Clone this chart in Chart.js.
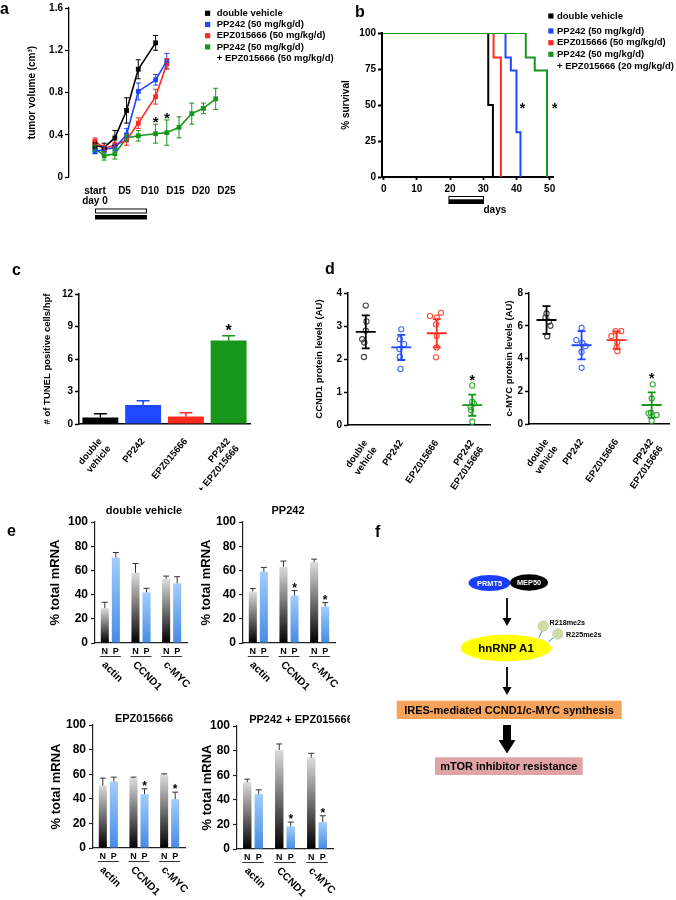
<!DOCTYPE html>
<html>
<head>
<meta charset="utf-8">
<title>PRMT5 / mTOR figure</title>
<script src="https://cdn.jsdelivr.net/npm/chart.js@4.4.1/dist/chart.umd.min.js"></script>
<style>
  body { margin: 0; background: #fff; }
  #page { position: relative; width: 676px; height: 900px; overflow: hidden; background: #fff; }
  .cv { position: absolute; }
  #overlay { position: absolute; left: 0; top: 0; pointer-events: none; }
</style>
</head>
<body>
<div id="page">
  <div class="cv" style="left:0;top:0;width:340px;height:230px"><canvas id="chartA"></canvas></div>
  <div class="cv" style="left:340px;top:0;width:336px;height:230px"><canvas id="chartB"></canvas></div>
  <div class="cv" style="left:0;top:250px;width:340px;height:240px"><canvas id="chartC"></canvas></div>
  <div class="cv" style="left:300px;top:250px;width:200px;height:240px"><canvas id="chartD1"></canvas></div>
  <div class="cv" style="left:490px;top:250px;width:186px;height:240px"><canvas id="chartD2"></canvas></div>
  <div class="cv" style="left:0;top:490px;width:240px;height:210px"><canvas id="chartE1"></canvas></div>
  <div class="cv" style="left:150px;top:490px;width:200px;height:210px"><canvas id="chartE2"></canvas></div>
  <div class="cv" style="left:0;top:695px;width:240px;height:205px"><canvas id="chartE3"></canvas></div>
  <div class="cv" style="left:150px;top:695px;width:200px;height:205px"><canvas id="chartE4"></canvas></div>

  <svg id="overlay" width="676" height="900" viewBox="0 0 676 900" font-family="Liberation Sans, Arial, Helvetica, sans-serif" font-weight="bold">
    <text x="0" y="14" font-size="16">a</text>
    <text x="355" y="16.7" font-size="16">b</text>
    <text x="12" y="275" font-size="16">c</text>
    <text x="325" y="274.3" font-size="16">d</text>
    <text x="7" y="535.7" font-size="16">e</text>
    <text x="375" y="537" font-size="16">f</text>

    <!-- panel f: model -->
    <ellipse cx="489.5" cy="583" rx="21" ry="8" fill="#1a3cff"/>
    <ellipse cx="529" cy="582.5" rx="19" ry="8.3" fill="#000"/>
    <text x="489.5" y="585.7" font-size="7.4" fill="#fff" text-anchor="middle">PRMT5</text>
    <text x="529" y="585.2" font-size="7.4" fill="#fff" text-anchor="middle">MEP50</text>
    <line x1="507" y1="598" x2="507" y2="619" stroke="#000" stroke-width="1.8"/>
    <polygon points="502.5,618 511.5,618 507,626" fill="#000"/>
    <line x1="539" y1="637.5" x2="542" y2="631" stroke="#3b80d6" stroke-width="1"/>
    <line x1="548.5" y1="642" x2="553" y2="638" stroke="#3b80d6" stroke-width="1"/>
    <ellipse cx="506" cy="648" rx="45.5" ry="13.3" fill="#ffff00"/>
    <circle cx="543.3" cy="626" r="5.7" fill="#cfdca8"/>
    <circle cx="557.7" cy="634" r="5.7" fill="#cfdca8"/>
    <text x="549.5" y="625" font-size="7.2">R218me2s</text>
    <text x="566" y="636.7" font-size="7.2">R225me2s</text>
    <text x="506" y="652" font-size="11.5" text-anchor="middle">hnRNP A1</text>
    <line x1="507" y1="667" x2="507" y2="688" stroke="#000" stroke-width="1.8"/>
    <polygon points="502.5,687 511.5,687 507,695" fill="#000"/>
    <rect x="396.7" y="700.7" width="225" height="18.3" fill="#f7a45a"/>
    <text x="509" y="713.8" font-size="11" text-anchor="middle">IRES-mediated CCND1/c-MYC synthesis</text>
    <rect x="503" y="725" width="8" height="16" fill="#000"/>
    <polygon points="498.5,740 515.5,740 507,753.5" fill="#000"/>
    <rect x="435" y="757.3" width="147.7" height="17.7" fill="#dfa3a3"/>
    <text x="508.8" y="770.2" font-size="11" text-anchor="middle">mTOR inhibitor resistance</text>
  </svg>
</div>

<script>
// ---- panel a: tumor volume ----
const dayA = [-0.8, 1, 3.1, 5.4, 7.7, 11.1, 13.3, 15.7, 18.2, 20.5, 22.9];
const volVehicle = [0.30, 0.28, 0.37, 0.63, 1.02, 1.27];
const errVehicle = [0.03, 0.04, 0.07, 0.12, 0.09, 0.07];
const volPP242 = [0.24, 0.26, 0.28, 0.40, 0.81, 0.92, 1.10];
const errPP242 = [0.02, 0.03, 0.03, 0.06, 0.08, 0.05, 0.07];
const volEPZ = [0.34, 0.27, 0.30, 0.35, 0.51, 0.76, 1.07];
const errEPZ = [0.03, 0.03, 0.03, 0.05, 0.05, 0.07, 0.05];
const volCombo = [0.27, 0.20, 0.22, 0.37, 0.39, 0.41, 0.42, 0.47, 0.60, 0.65, 0.74];
const errCombo = [0.03, 0.04, 0.05, 0.03, 0.05, 0.09, 0.12, 0.10, 0.10, 0.05, 0.10];
const tickDaysA = [-0.8, 5, 10, 15, 20, 25];
const tickLabelsA = [['start', 'day 0'], 'D5', 'D10', 'D15', 'D20', 'D25'];
const treatA = [-0.8, 9.4];

// ---- panel b: survival ----
const kmVehicleDay = [0, 31.5, 32.9], kmVehicleSurv = [100, 50, 0];
const kmPP242Day = [0, 36.7, 38.3, 40, 41.2], kmPP242Surv = [100, 83, 74, 31, 0];
const kmEPZDay = [0, 33.1, 35.3], kmEPZSurv = [100, 83, 0];
const kmComboDay = [0, 42.8, 45.5, 49.2], kmComboSurv = [100, 83, 74, 0];
const tickDaysB = [0, 10, 20, 30, 40, 50];
const treatB = [19.5, 30.2];
const starsB = [[41.8, 50], [51.5, 50]];

// ---- panel c: TUNEL ----
const groups = [['double', 'vehicle'], 'PP242', 'EPZ015666', ['PP242', '+ EPZ015666']];
const tunelMean = [0.6, 1.75, 0.7, 7.7];
const tunelErr = [0.35, 0.4, 0.35, 0.45];

// ---- panel d: protein levels ----
const ccndVehicle = [3.62, 3.14, 2.86, 2.6, 2.5, 2.06];
const ccndPP242 = [2.9, 2.6, 2.45, 2.3, 2.07, 1.7];
const ccndEPZ = [3.3, 3.25, 3.4, 3.05, 2.7, 2.35, 2.05];
const ccndCombo = [1.2, 0.7, 0.65, 0.55, 0.45, 0.1];
const ccndMean = [2.82, 2.35, 2.78, 0.6];
const ccndSd = [0.5, 0.38, 0.43, 0.32];
const mycVehicle = [6.75, 6.5, 6.25, 6.0, 5.35];
const mycPP242 = [5.87, 5.12, 4.95, 4.75, 4.4, 3.43];
const mycEPZ = [5.36, 5.67, 5.67, 5.0, 4.7, 4.45];
const mycCombo = [2.42, 1.56, 0.69, 0.65, 0.55, 0.2];
const mycMean = [6.35, 4.81, 5.12, 1.16];
const mycSd = [0.85, 0.86, 0.53, 0.77];
// horizontal scatter of the dots (fraction of a group slot)
const jitCcnd = [[0, 0.02, 0, -0.1, -0.04, -0.05], [0, -0.04, 0.08, -0.05, -0.04, -0.02], [-0.19, 0, 0.12, -0.02, 0, 0, -0.02], [0, 0, 0.05, -0.05, -0.03, 0]];
const jitMyc = [[0, -0.03, 0.07, 0.11, 0.02], [0, -0.15, 0.02, 0.11, 0, 0], [-0.15, -0.03, 0.13, 0.02, 0, 0.02], [0.03, 0, -0.02, -0.09, 0.14, 0]];

// ---- panel e: polysome mRNA ----
const genes = ['actin', 'CCND1', 'c-MYC'];
const vehN = [28.8, 58, 53], vehNErr = [4.9, 7.7, 2.3];
const vehP = [70.7, 41.9, 49.3], vehPErr = [4.1, 3.3, 5.5];
const ppN = [42.5, 63, 66.8], ppNErr = [2.5, 4.7, 2.5];
const ppP = [58.9, 39.2, 30.1], ppPErr = [3.6, 4.1, 3.3];
const epzN = [50.8, 56.8, 59.5], epzNErr = [6, 0.8, 0.8];
const epzP = [54, 43.8, 39.7], epzPErr = [3.6, 4.3, 5.7];
const comboN = [54.3, 80.5, 74.3], comboNErr = [2.5, 4.9, 3.5];
const comboP = [44.6, 18.4, 21.9], comboPErr = [3.5, 3.5, 5.1];

const COL = ['#000000', '#1f48ff', '#ff2a1f', '#17961a'];
const DOT = ['#444444', '#4466ff', '#ff4a3a', '#36a836'];
const FAM = '"Liberation Sans", Arial, Helvetica, sans-serif';

Chart.defaults.font.family = FAM;
Chart.defaults.font.weight = 'bold';
Chart.defaults.font.size = 10;
Chart.defaults.color = '#000';
Chart.defaults.animation = false;
Chart.defaults.maintainAspectRatio = false;
Chart.defaults.plugins.legend.display = false;
Chart.defaults.plugins.tooltip.enabled = false;

function drawStar(ctx, x, cy, size) {
  ctx.save();
  ctx.fillStyle = '#000';
  ctx.font = 'bold ' + size + 'px ' + FAM;
  ctx.textAlign = 'center';
  ctx.textBaseline = 'alphabetic';
  ctx.fillText('*', x, cy + size * 0.58);
  ctx.restore();
}

// error bars + stars, read from dataset.err / dataset.stars
const errPlugin = {
  id: 'errPlugin',
  afterDatasetsDraw(chart) {
    const ctx = chart.ctx, y = chart.scales.y;
    chart.data.datasets.forEach((ds, i) => {
      if (!ds.err) return;
      const meta = chart.getDatasetMeta(i);
      ctx.save();
      ctx.lineWidth = ds.errWidth || 1;
      meta.data.forEach((el, j) => {
        const raw = ds.data[j];
        const v = typeof raw === 'object' ? raw.y : raw;
        const e = ds.err[j], c = ds.cap || 3;
        const yt = y.getPixelForValue(v + e);
        const yb = y.getPixelForValue(ds.errMode === 'up' ? v : v - e);
        const col = ds.errColor || ds.borderColor;
        ctx.strokeStyle = Array.isArray(col) ? col[j] : col;
        ctx.beginPath();
        ctx.moveTo(el.x, yt); ctx.lineTo(el.x, yb);
        ctx.moveTo(el.x - c, yt); ctx.lineTo(el.x + c, yt);
        if (ds.errMode !== 'up') { ctx.moveTo(el.x - c, yb); ctx.lineTo(el.x + c, yb); }
        ctx.stroke();
        if (ds.stars && ds.stars.includes(j)) drawStar(ctx, el.x, yt - ds.starGap, ds.starSize);
      });
      ctx.restore();
    });
  }
};
Chart.register(errPlugin);

function yAxis(o) {
  return {
    min: o.min, max: o.max,
    ticks: { stepSize: o.step, color: '#000', font: { size: o.fs || 10, weight: 'bold' }, padding: o.tp === undefined ? 2 : o.tp },
    grid: { drawOnChartArea: false, tickLength: 4, tickColor: o.color || '#000', tickWidth: o.lw || 1.3 },
    border: { color: o.color || '#000', width: o.lw || 1.3 },
    title: { display: true, text: o.title, color: '#000', font: { size: o.tfs || 10, weight: 'bold', lineHeight: o.tlh || 1.2 }, padding: 0 },
    afterFit: s => { s.width = o.w; }
  };
}

function boxLegend(ys, lh, sqX, txtX, sq) {
  return {
    id: 'boxLegend',
    afterDraw(chart) {
      const ctx = chart.ctx;
      ctx.save();
      ctx.font = 'bold 9.5px ' + FAM;
      ctx.textAlign = 'left';
      ctx.textBaseline = 'middle';
      chart.data.datasets.forEach((ds, i) => {
        ctx.fillStyle = ds.borderColor;
        ctx.fillRect(sqX, ys[i] - sq / 2, sq, sq);
        ctx.fillStyle = '#000';
        ds.label.split('\n').forEach((t, k) => ctx.fillText(t, txtX, ys[i] + k * lh));
      });
      ctx.restore();
    }
  };
}

function treatBars(range, y1, h1, y2, h2) {
  return {
    id: 'treatBars',
    afterDraw(chart) {
      const ctx = chart.ctx, x = chart.scales.x;
      const a = x.getPixelForValue(range[0]), b = x.getPixelForValue(range[1]);
      ctx.save();
      ctx.strokeStyle = '#000';
      ctx.lineWidth = 1;
      ctx.strokeRect(a + 0.5, y1 + 0.5, b - a - 1, h1);
      ctx.fillStyle = '#000';
      ctx.fillRect(a, y2, b - a, h2);
      ctx.restore();
    }
  };
}

// ---------------- panel a ----------------
function volSeries(label, ys, err, color, extra) {
  return Object.assign({
    label: label,
    data: ys.map((v, i) => ({ x: dayA[i], y: v })),
    err: err, errWidth: 1, cap: 2.5,
    borderColor: color, backgroundColor: color,
    borderWidth: 1.6, pointStyle: 'rect', pointRadius: 3.4, pointBorderWidth: 0
  }, extra || {});
}

new Chart('chartA', {
  type: 'line',
  data: {
    datasets: [
      volSeries('double vehicle', volVehicle, errVehicle, COL[0]),
      volSeries('PP242 (50 mg/kg/d)', volPP242, errPP242, COL[1]),
      volSeries('EPZ015666 (50 mg/kg/d)', volEPZ, errEPZ, COL[2]),
      volSeries('PP242 (50 mg/kg/d)\n+ EPZ015666 (50 mg/kg/d)', volCombo, errCombo, COL[3], { stars: [5, 6], starGap: 6, starSize: 15 })
    ]
  },
  options: {
    layout: { padding: { left: 26, top: 4, right: 108, bottom: 0 } },
    scales: {
      x: {
        type: 'linear', min: -5.9, max: 26.1,
        afterBuildTicks: s => { s.ticks = tickDaysA.map(v => ({ value: v })); },
        ticks: { callback: (v, i) => tickLabelsA[i], autoSkip: false, maxRotation: 0, padding: 1, font: { size: 10, weight: 'bold', lineHeight: 1.0 } },
        grid: { display: false },
        border: { display: false },
        afterFit: s => { s.height = 53; }
      },
      y: yAxis({ min: 0, max: 1.6, step: 0.4, title: 'tumor volume (cm³)', w: 43 })
    }
  },
  plugins: [boxLegend([13.3, 24.5, 35.7, 46.9], 11.5, 205, 216.7, 5.2), treatBars(treatA, 208.5, 4, 215, 4.5)]
});

// ---------------- panel b ----------------
function kmSeries(label, days, surv, color, order) {
  return {
    label: label,
    data: days.map((d, i) => ({ x: d, y: surv[i] })),
    borderColor: color, backgroundColor: color,
    borderWidth: 2, pointRadius: 0, stepped: 'before', order: order
  };
}

new Chart('chartB', {
  type: 'line',
  data: {
    datasets: [
      kmSeries('double vehicle', kmVehicleDay, kmVehicleSurv, COL[0], 3),
      kmSeries('PP242 (50 mg/kg/d)', kmPP242Day, kmPP242Surv, COL[1], 2),
      kmSeries('EPZ015666 (50 mg/kg/d)', kmEPZDay, kmEPZSurv, COL[2], 1),
      kmSeries('PP242 (50 mg/kg/d)\n+ EPZ015666 (20 mg/kg/d)', kmComboDay, kmComboSurv, COL[3], 0)
    ]
  },
  options: {
    layout: { padding: { left: 0, top: 33, right: 123, bottom: 0 } },
    scales: {
      x: {
        type: 'linear', min: -0.5, max: 51,
        afterBuildTicks: s => { s.ticks = tickDaysB.map(v => ({ value: v })); },
        ticks: { autoSkip: false, maxRotation: 0, padding: 3, font: { size: 10, weight: 'bold' } },
        grid: { drawOnChartArea: false, tickLength: 3, tickColor: '#000', tickWidth: 1.8 },
        border: { color: '#000', width: 2 },
        afterFit: s => { s.height = 53; }
      },
      y: yAxis({ min: 0, max: 100, step: 25, title: '% survival', w: 42, lw: 2 })
    }
  },
  plugins: [
    boxLegend([16, 31, 42.7, 54.3], 11.7, 208.3, 217, 5.2),
    treatBars(treatB, 196, 3.3, 200, 4),
    {
      id: 'bExtras',
      afterDraw(chart) {
        const { ctx, scales: { x, y }, chartArea: a } = chart;
        starsB.forEach(p => drawStar(ctx, x.getPixelForValue(p[0]), y.getPixelForValue(p[1]), 14));
        ctx.save();
        ctx.font = 'bold 10px ' + FAM;
        ctx.textAlign = 'center';
        ctx.textBaseline = 'alphabetic';
        ctx.fillStyle = '#000';
        ctx.fillText('days', x.getPixelForValue(33.5), a.bottom + 36);
        ctx.restore();
      }
    }
  ]
});

// ---------------- panel c ----------------
new Chart('chartC', {
  type: 'bar',
  data: {
    labels: groups,
    datasets: [{
      data: tunelMean, err: tunelErr, errMode: 'up', errWidth: 1.5, cap: 6.5,
      errColor: COL, backgroundColor: COL, borderWidth: 0,
      barPercentage: 0.84, categoryPercentage: 1,
      stars: [3], starGap: 9, starSize: 16
    }]
  },
  options: {
    layout: { padding: { left: 42, top: 44, right: 90, bottom: 0 } },
    scales: {
      x: {
        ticks: { minRotation: 50, maxRotation: 50, padding: 4, font: { size: 9.5, weight: 'bold' } },
        grid: { display: false },
        border: { color: '#000', width: 1.5 },
        afterFit: s => { s.height = 66; }
      },
      y: yAxis({ min: 0, max: 12, step: 3, title: '# of TUNEL positive cells/hpf', w: 37, lw: 1.5, tfs: 9.5 })
    }
  }
});

// ---------------- panel d ----------------
function dotChart(id, sets, jit, means, sds, ymax, ystep, title, pad, yw, xh) {
  return new Chart(id, {
    type: 'scatter',
    data: {
      datasets: sets.map((vals, g) => ({
        data: vals.map((v, k) => ({ x: g + jit[g][k], y: v })),
        borderColor: DOT[g], backgroundColor: 'rgba(0,0,0,0)',
        pointRadius: 2.6, pointBorderWidth: 1.1, showLine: false
      }))
    },
    options: {
      layout: { padding: pad },
      scales: {
        x: {
          type: 'linear', min: -0.5, max: 3.5,
          afterBuildTicks: s => { s.ticks = [0, 1, 2, 3].map(v => ({ value: v })); },
          ticks: { callback: (v, i) => groups[i], autoSkip: false, minRotation: 55, maxRotation: 55, padding: 5, font: { size: 9.5, weight: 'bold' } },
          grid: { display: false },
          border: { color: '#000', width: 1.5 },
          afterFit: s => { s.height = xh; }
        },
        y: yAxis({ min: 0, max: ymax, step: ystep, title: title, w: yw, lw: 1.5, tfs: 9.5 })
      }
    },
    plugins: [{
      id: 'meanSd',
      afterDatasetsDraw(chart) {
        const { ctx, scales: { x, y } } = chart;
        means.forEach((m, g) => {
          const cx = x.getPixelForValue(g);
          const ym = y.getPixelForValue(m), yt = y.getPixelForValue(m + sds[g]), yb = y.getPixelForValue(m - sds[g]);
          ctx.save();
          ctx.strokeStyle = COL[g];
          ctx.lineWidth = 1.8;
          ctx.beginPath();
          ctx.moveTo(cx - 10, ym); ctx.lineTo(cx + 10, ym);
          ctx.moveTo(cx, yt); ctx.lineTo(cx, yb);
          ctx.moveTo(cx - 4, yt); ctx.lineTo(cx + 4, yt);
          ctx.moveTo(cx - 4, yb); ctx.lineTo(cx + 4, yb);
          ctx.stroke();
          ctx.restore();
        });
        const last = sets[3];
        drawStar(ctx, x.getPixelForValue(3), y.getPixelForValue(Math.max.apply(null, last)) - 9, 14);
      }
    }]
  });
}

dotChart('chartD1', [ccndVehicle, ccndPP242, ccndEPZ, ccndCombo], jitCcnd, ccndMean, ccndSd, 4, 1,
  'CCND1 protein levels (AU)', { left: 14, top: 43, right: 10, bottom: 0 }, 34, 65);
dotChart('chartD2', [mycVehicle, mycPP242, mycEPZ, mycCombo], jitMyc, mycMean, mycSd, 8, 2,
  'c-MYC protein levels (AU)', { left: 14, top: 43, right: 4, bottom: 0 }, 25, 66);

// ---------------- panel e ----------------
function barGrad(top, bottom) {
  return function (c) {
    const chart = c.chart;
    if (c.type !== 'data' || !chart.chartArea) return bottom;
    const y = chart.scales.y;
    const g = chart.ctx.createLinearGradient(0, y.getPixelForValue(c.raw), 0, y.getPixelForValue(0));
    g.addColorStop(0, top);
    g.addColorStop(1, bottom);
    return g;
  };
}

function mrnaChart(id, n, nErr, p, pErr, stars, pad, yw, xh, title, tx, ty) {
  return new Chart(id, {
    type: 'bar',
    data: {
      labels: genes,
      datasets: [
        { data: n, err: nErr, errMode: 'up', errColor: '#333', errWidth: 1, cap: 3,
          backgroundColor: barGrad('#dcdcdc', '#000000'), borderWidth: 0,
          categoryPercentage: 0.72, barPercentage: 0.73 },
        { data: p, err: pErr, errMode: 'up', errColor: '#333', errWidth: 1, cap: 3,
          backgroundColor: barGrad('#a2cdfd', '#468be4'), borderWidth: 0,
          categoryPercentage: 0.72, barPercentage: 0.73,
          stars: stars, starGap: 6, starSize: 12 }
      ]
    },
    options: {
      layout: { padding: pad },
      scales: {
        x: {
          ticks: { display: false },
          grid: { display: false },
          border: { color: '#222', width: 1.2 },
          afterFit: s => { s.height = xh; }
        },
        y: yAxis({ min: 0, max: 100, step: 20, title: '% total mRNA', w: yw, fs: 12, tp: 3, tfs: 13, tlh: 1.0, color: '#222', lw: 1.2 })
      }
    },
    plugins: [{
      id: 'mrnaDecor',
      afterDraw(chart) {
        const { ctx, chartArea: a, scales: { x } } = chart;
        const mN = chart.getDatasetMeta(0), mP = chart.getDatasetMeta(1);
        ctx.save();
        ctx.fillStyle = '#000';
        ctx.strokeStyle = '#000';
        ctx.font = 'bold 11px ' + FAM;
        ctx.textAlign = 'center';
        ctx.textBaseline = 'alphabetic';
        ctx.fillText(title, tx, ty);
        chart.data.labels.forEach((g, i) => {
          const nx = mN.data[i].x, px = mP.data[i].x;
          ctx.font = 'bold 9px ' + FAM;
          ctx.textAlign = 'center';
          ctx.textBaseline = 'alphabetic';
          ctx.fillText('N', nx, a.bottom + 11);
          ctx.fillText('P', px, a.bottom + 11);
          ctx.lineWidth = 0.8;
          ctx.beginPath();
          ctx.moveTo(nx - 5, a.bottom + 13.5);
          ctx.lineTo(px + 5, a.bottom + 13.5);
          ctx.stroke();
          ctx.save();
          ctx.translate(x.getPixelForValue(i) - 3, a.bottom + 16.5);
          ctx.rotate(Math.PI / 4);
          ctx.font = 'bold 10.5px ' + FAM;
          ctx.textAlign = 'left';
          ctx.textBaseline = 'top';
          ctx.fillText(g, 0, 0);
          ctx.restore();
        });
        ctx.restore();
      }
    }]
  });
}

mrnaChart('chartE1', vehN, vehNErr, vehP, vehPErr, [], { left: 49, top: 32, right: 53, bottom: 0 }, 46, 57, 'double vehicle', 144, 23.7);
mrnaChart('chartE2', ppN, ppNErr, ppP, ppPErr, [1, 2], { left: 50, top: 32, right: 15, bottom: 0 }, 43, 57, 'PP242', 138, 23.7);
mrnaChart('chartE3', epzN, epzNErr, epzP, epzPErr, [1, 2], { left: 50, top: 30, right: 55, bottom: 0 }, 43, 52, 'EPZ015666', 144, 26.7);
mrnaChart('chartE4', comboN, comboNErr, comboP, comboPErr, [1, 2], { left: 51, top: 31, right: 17, bottom: 0 }, 36, 51, 'PP242 + EPZ015666', 151, 27.7);
</script>
</body>
</html>
